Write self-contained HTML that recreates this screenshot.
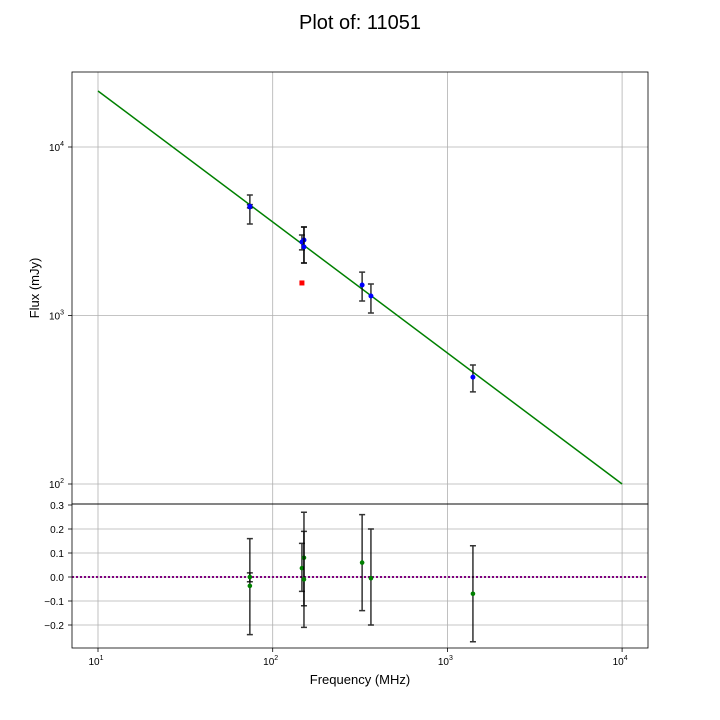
<!DOCTYPE html>
<html><head><meta charset="utf-8"><style>
body{margin:0;background:#fff}
svg{display:block;font-family:"Liberation Sans","DejaVu Sans",sans-serif}
</style></head><body>
<svg id="c" width="720" height="720" viewBox="0 0 720 720">
<text x="360" y="29" font-size="20" text-anchor="middle">Plot of: 11051</text>
<g id="g"></g>
</svg>
<script>
const freqs=[74,74,147,151,151,325,365,1400];
const flux=[4406,4450,2730,2805,2553,1517,1306,431];
const fluxLo=[3490,4350,2450,2050,2050,1220,1035,352];
const fluxHi=[5190,4550,3005,3350,3350,1810,1538,508];
const outlierFreq=[147];
const outlierFlux=[1560];
const resid=[-0.037,0.0,0.037,0.08,-0.01,0.06,-0.005,-0.07];
const residLo=[-0.24,-0.02,-0.06,-0.21,-0.12,-0.14,-0.2,-0.27];
const residHi=[0.16,0.017,0.14,0.27,0.19,0.26,0.2,0.13];
const fitStart=[10,21500];
const fitEnd=[10000,100];
const xTicks=[1,2,3,4];
const yTicks=[2,3,4];
const rTicks=[-0.2,-0.1,0,0.1,0.2,0.3];

const NS='http://www.w3.org/2000/svg';
const g=document.getElementById('g');
const X=f=>98+(Math.log10(f)-1)*174.7;
const Y=v=>147-(Math.log10(v)-4)*168.5;
const R=r=>577-r*240;
function el(t,a,p){const e=document.createElementNS(NS,t);for(const k in a)e.setAttribute(k,a[k]);(p||g).appendChild(e);return e;}
const L=72,Rt=648,T=72,M=504,B=648;

for(const t of xTicks){const x=X(Math.pow(10,t));
 const a=el('line',{x1:x,x2:x,y1:T,y2:M,stroke:'#b0b0b0','stroke-width':0.8});
 
 const b=el('line',{x1:x,x2:x,y1:M,y2:B,stroke:'#b0b0b0','stroke-width':0.8});
 
 const tk=el('line',{x1:x,x2:x,y1:B,y2:B+4,stroke:'#000','stroke-width':0.8});
 
 const tx=el('text',{x:x-2,y:B+17,'font-size':10,'text-anchor':'middle'});
 
 tx.innerHTML='10<tspan dy="-5" font-size="7">'+t+'</tspan>';
}
for(const t of yTicks){const y=Y(Math.pow(10,t));
 const a=el('line',{x1:L,x2:Rt,y1:y,y2:y,stroke:'#b0b0b0','stroke-width':0.8});
 
 const tk=el('line',{x1:L-4,x2:L,y1:y,y2:y,stroke:'#000','stroke-width':0.8});
 
 const tx=el('text',{x:L-8,y:y+4,'font-size':10,'text-anchor':'end'});
 
 tx.innerHTML='10<tspan dy="-5" font-size="7">'+t+'</tspan>';
}
for(const t of rTicks){const y=R(t);
 if(t<0.3){const a=el('line',{x1:L,x2:Rt,y1:y,y2:y,stroke:'#b0b0b0','stroke-width':0.8});
 }
 const tk=el('line',{x1:L-4,x2:L,y1:y,y2:y,stroke:'#000','stroke-width':0.8});
 
 const tx=el('text',{x:L-8,y:y+4,'font-size':10,'text-anchor':'end'});
 
 tx.textContent=(t<0?'\u2212'+Math.abs(t).toFixed(1):t.toFixed(1));
}
const fl=el('line',{x1:X(fitStart[0]),y1:Y(fitStart[1]),x2:X(fitEnd[0]),y2:Y(fitEnd[1]),stroke:'#008000','stroke-width':1.5});

const zl=el('line',{x1:L,x2:Rt,y1:R(0),y2:R(0),stroke:'#800080','stroke-width':2,'stroke-dasharray':'2,2'});


function errbar(x,y1,y2,name){
 const e=el('path',{d:`M${x},${y1}V${y2}M${x-3},${y1}H${x+3}M${x-3},${y2}H${x+3}`,stroke:'#000','stroke-width':1.5,fill:'none',opacity:0.8});
 
}
for(let i=0;i<freqs.length;i++){const x=X(freqs[i]);
 errbar(x,Y(fluxHi[i]),Y(fluxLo[i]),'flux-error-bar');
 const c=el('circle',{cx:x,cy:Y(flux[i]),r:2.5,fill:'#0000ff'});
 
 errbar(x,R(residHi[i]),R(residLo[i]),'residual-error-bar');
 const d=el('circle',{cx:x,cy:R(resid[i]),r:2.3,fill:'#008000'});
 
}
for(let i=0;i<outlierFreq.length;i++){
 const o=el('rect',{x:X(outlierFreq[i])-2.5,y:Y(outlierFlux[i])-2.5,width:5,height:5,fill:'#ff0000'});
 
}
const f1=el('rect',{x:L,y:T,width:Rt-L,height:M-T,fill:'none',stroke:'#000','stroke-width':0.8});

const f2=el('rect',{x:L,y:M,width:Rt-L,height:B-M,fill:'none',stroke:'#000','stroke-width':0.8});

const xl=el('text',{x:360,y:684,'font-size':13,'text-anchor':'middle'});

xl.textContent='Frequency (MHz)';
const yl=el('text',{x:0,y:0,'font-size':13,'text-anchor':'middle',transform:'translate(39,288) rotate(-90)'});

yl.textContent='Flux (mJy)';
</script>
</body></html>
